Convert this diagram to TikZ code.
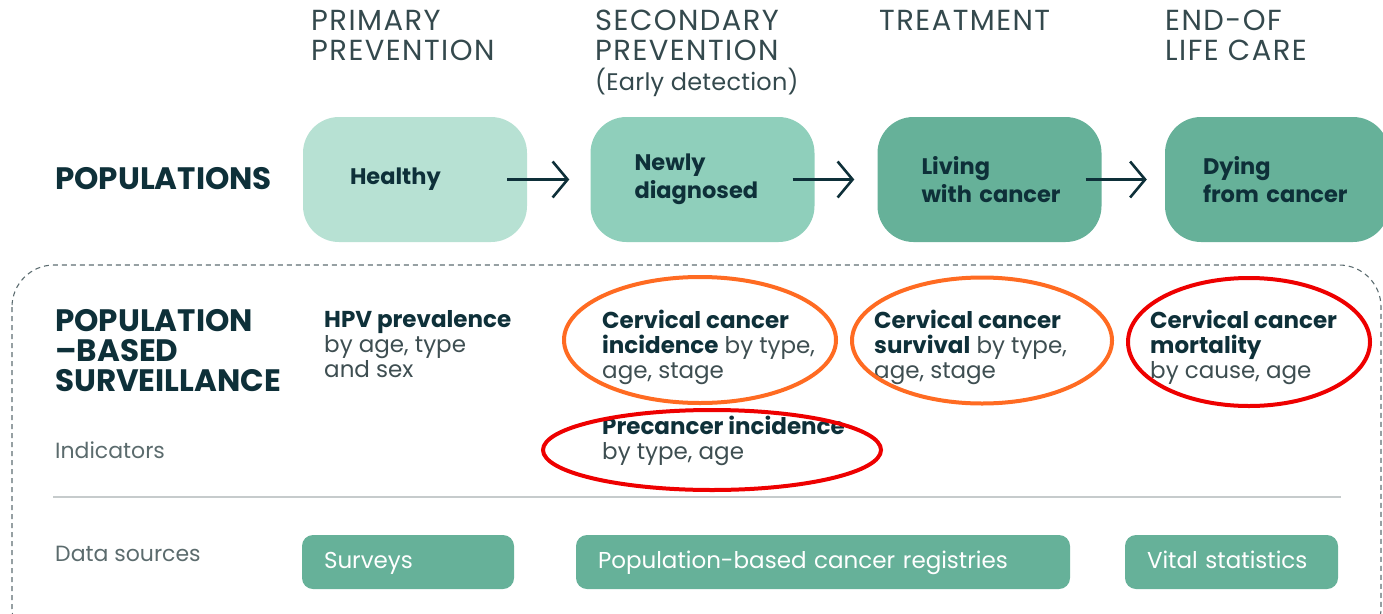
\documentclass[tikz,border=0pt]{standalone}
\usepackage{fontspec}
\setmainfont{Poppins}
\usetikzlibrary{positioning,arrows.meta}
\definecolor{inkdark}{HTML}{0E3039}
\definecolor{inkhead}{HTML}{34494D}
\definecolor{inkgray}{HTML}{3E4E51}
\definecolor{inksoft}{HTML}{5B6B6D}
\definecolor{mintlight}{HTML}{B7E1D3}
\definecolor{mintmid}{HTML}{8FCFBB}
\definecolor{mintdark}{HTML}{66B199}
\definecolor{ringorange}{HTML}{FF6B22}
\definecolor{ringred}{HTML}{EE0000}
\newcommand{\hl}[1]{{\bfseries\color{inkdark}#1}}

\begin{document}
\begin{tikzpicture}[x=1pt, y=-1pt,
    stage/.style={anchor=north west, inner sep=0pt, align=left, text=inkhead, font=\fontsize{29}{30}\selectfont\addfontfeatures{LetterSpace=5}},
    rowlabel/.style={anchor=north west, inner sep=0pt, align=left, text=inkdark, font=\fontsize{31}{30}\selectfont\bfseries},
    sidelabel/.style={anchor=west, inner sep=0pt, text=inksoft, font=\fontsize{22}{26}\selectfont},
    popbox/.style={rectangle, rounded corners=36pt, minimum height=125pt, text width=136pt, inner xsep=44pt, align=left, text=inkdark, font=\fontsize{22.5}{27.5}\selectfont\bfseries},
    indicator/.style={anchor=north west, inner sep=0pt, align=left, text=inkgray, font=\fontsize{23}{25}\selectfont},
    sourcebox/.style={rectangle, rounded corners=11pt, fill=mintdark, minimum height=54pt, inner xsep=22pt, align=left, text=white, text depth=4pt, font=\fontsize{23}{25}\selectfont},
    arrow/.style={-{Straight Barb[length=15pt,width=36pt]}, line width=2.6pt, draw=inkdark},
    ring/.style={line width=4pt}
]
    \useasboundingbox (0,0) rectangle (1383,613);

    % stages of the care continuum
    \node[stage] (primary) at (311,10) {PRIMARY\\PREVENTION};
    \node[stage] (secondary) at (595,10) {SECONDARY\\PREVENTION\\{\fontsize{24}{28}\selectfont\addfontfeatures{LetterSpace=1}(Early detection)}};
    \node[stage] (treatment) at (879,10) {TREATMENT};
    \node[stage] (endlife) at (1165,10) {END-OF\\LIFE CARE};

    % populations
    \node[rowlabel, anchor=west] (populations) at (55,179) {POPULATIONS};
    \node[popbox, fill=mintlight] (healthy) at (415,179.5) {\hspace*{3pt}Healthy};
    \node[popbox, fill=mintmid] (newly) at (702.5,179.5) {Newly\\\mbox{diagnosed}};
    \node[popbox, fill=mintdark] (living) at (989.5,179.5) {Living\\\mbox{with cancer}};
    \node[popbox, fill=mintdark] (dying) at (1277,179.5) {\hspace*{-6pt}Dying\\\mbox{\hspace*{-6pt}from cancer}};

    \draw[arrow] ([xshift=-20pt]healthy.east) -- ([xshift=-21pt]newly.west);
    \draw[arrow] ([xshift=-22pt]newly.east) -- ([xshift=-23pt]living.west);
    \draw[arrow] ([xshift=-16pt]living.east) -- ([xshift=-18pt]dying.west);

    % surveillance frame
    \draw[inkhead!80, line width=1.1pt, dash pattern=on 5pt off 4pt, rounded corners=42pt]
        (12,265) rectangle (1381,650);
    \node[rowlabel] (surveillance) at (55,309) {POPULATION\\–BASED\\SURVEILLANCE};
    \node[sidelabel] (indicators) at (55,450) {Indicators};
    \node[sidelabel] (sources) at (55,554) {Data sources};
    \draw[inksoft!35, line width=1.2pt] (53,497) -- (1341,497);

    % indicators
    \node[indicator] (hpv) at (324,310) {\hl{HPV prevalence}\\by age, type\\and sex};
    \node[indicator] (incidence) at (602,310) {\hl{Cervical cancer}\\\hl{incidence} by type,\\age, stage};
    \node[indicator] (precancer) at (602,416) {\hl{Precancer incidence}\\by type, age};
    \node[indicator] (survival) at (874,310) {\hl{Cervical cancer}\\\hl{survival} by type,\\age, stage};
    \node[indicator] (mortality) at (1150,310) {\hl{Cervical cancer}\\\hl{mortality}\\by cause, age};

    % highlight rings
    \draw[ring, ringorange] (700,340) ellipse [x radius=136pt, y radius=63pt];
    \draw[ring, ringorange] (982,340.5) ellipse [x radius=130pt, y radius=63pt];
    \draw[ring, ringred] (1249,342) ellipse [x radius=121pt, y radius=64pt];
    \draw[ring, ringred] (712,450) ellipse [x radius=169pt, y radius=40pt];

    % data sources
    \node[sourcebox, text width=168pt] (surveys) at (408,562) {Surveys};
    \node[sourcebox, text width=450pt] (registries) at (823,562) {Population-based cancer registries};
    \node[sourcebox, text width=169pt] (vital) at (1231.5,562) {Vital statistics};
\end{tikzpicture}
\end{document}
